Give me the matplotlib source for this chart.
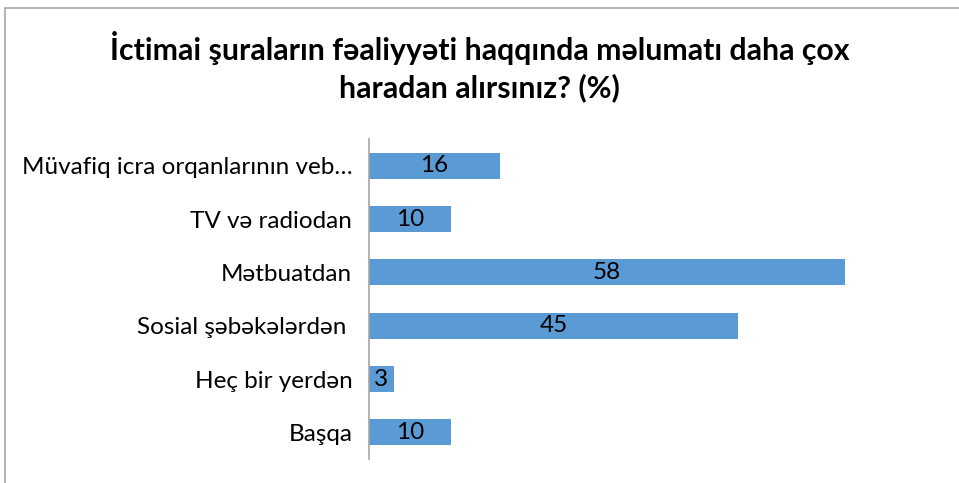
import matplotlib.pyplot as plt
from matplotlib.patches import Rectangle

categories = [
    "Müvafiq icra orqanlarının veb…",
    "TV və radiodan",
    "Mətbuatdan",
    "Sosial şəbəkələrdən ",
    "Heç bir yerdən",
    "Başqa",
]
values = [16, 10, 58, 45, 3, 10]

plt.rcParams['font.family'] = ['Lato', 'DejaVu Sans']

W, H = 959, 483
fig = plt.figure(figsize=(W / 100, H / 100), dpi=100)

# chart frame (partly cut off on the right and bottom)
fig.patches.append(Rectangle((5 / W, -0.1), 1.2, 1 - 8 / H + 0.1,
                             transform=fig.transFigure, fill=False,
                             edgecolor='#a6a6a6', linewidth=1.2))

ax = fig.add_axes([369 / W, 1 - 459 / H, (943 - 369) / W, 320 / H])
y = range(len(categories))
bars = ax.barh(y, values, height=0.49, color='#5b9bd5')
ax.set_ylim(len(categories) - 0.5, -0.5)
ax.set_xlim(0, 70)

for b, v in zip(bars, values):
    ax.text(b.get_width() / 2, b.get_y() + b.get_height() / 2, str(v),
            ha='center', va='center', fontsize=17.5, color='black')

ax.set_yticks(list(y))
ax.set_yticklabels(categories, fontsize=17.5)
ax.tick_params(axis='y', length=0, pad=12)
ax.set_xticks([])
for s in ['top', 'right', 'bottom']:
    ax.spines[s].set_visible(False)
ax.spines['left'].set_color('#a6a6a6')
ax.spines['left'].set_linewidth(1.2)

fig.text(0.5, 1 - 48 / H, "İctimai şuraların fəaliyyəti haqqında məlumatı daha çox",
         ha='center', va='center', fontsize=21.8, fontweight='bold')
fig.text(0.5, 1 - 88 / H, "haradan alırsınız? (%)",
         ha='center', va='center', fontsize=21.8, fontweight='bold')

fig.savefig('out.png', dpi=100)
